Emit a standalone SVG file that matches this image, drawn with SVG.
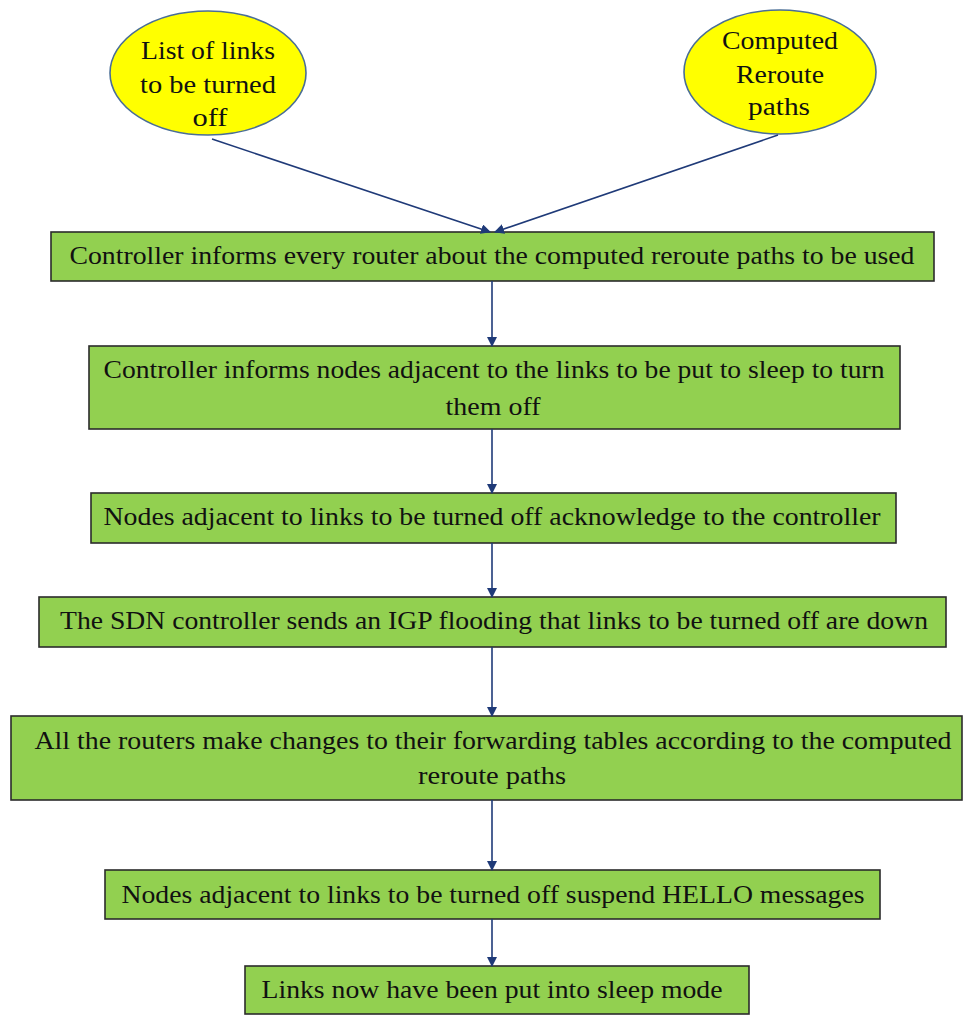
<svg xmlns="http://www.w3.org/2000/svg" width="964" height="1015" viewBox="0 0 964 1015">
<style>
.box{fill:#92D050;stroke:#2b2b2b;stroke-width:1.6}
.ell{fill:#FFFF00;stroke:#4a6e96;stroke-width:1.6}
.t{font-family:"Liberation Serif","Times New Roman",serif;font-size:25px;fill:#111;text-anchor:middle}
.c{stroke:#1F3A78;stroke-width:1.6;fill:none;marker-end:url(#ah)}
</style>
<defs>
<marker id="ah" markerWidth="10" markerHeight="10" refX="9" refY="5" orient="auto" markerUnits="userSpaceOnUse">
<path d="M0,0 L10,5 L0,10 z" fill="#1F3A78"/>
</marker>
</defs>
<rect width="964" height="1015" fill="#fff"/>
<g id="n1">
<ellipse class="ell" cx="208" cy="73" rx="98" ry="62"/>
<text class="t" x="208" y="59" textLength="134" lengthAdjust="spacingAndGlyphs">List of links</text>
<text class="t" x="208" y="93" textLength="136" lengthAdjust="spacingAndGlyphs">to be turned</text>
<text class="t" x="210" y="126" textLength="35" lengthAdjust="spacingAndGlyphs">off</text>
</g>
<g id="n2">
<ellipse class="ell" cx="780" cy="72" rx="96" ry="62"/>
<text class="t" x="780" y="49" textLength="116" lengthAdjust="spacingAndGlyphs">Computed</text>
<text class="t" x="780" y="83" textLength="88" lengthAdjust="spacingAndGlyphs">Reroute</text>
<text class="t" x="779" y="115" textLength="62" lengthAdjust="spacingAndGlyphs">paths</text>
</g>
<g id="n3">
<rect class="box" x="51" y="232" width="883" height="49"/>
<text class="t" x="492" y="264" textLength="845" lengthAdjust="spacingAndGlyphs">Controller informs every router about the computed reroute paths to be used</text>
</g>
<g id="n4">
<rect class="box" x="89" y="346" width="811" height="83"/>
<text class="t" x="494" y="378" textLength="781" lengthAdjust="spacingAndGlyphs">Controller informs nodes adjacent to the links  to be put to sleep to turn</text>
<text class="t" x="493" y="415" textLength="95" lengthAdjust="spacingAndGlyphs">them off</text>
</g>
<g id="n5">
<rect class="box" x="91" y="493" width="805" height="50"/>
<text class="t" x="492" y="525" textLength="777" lengthAdjust="spacingAndGlyphs">Nodes adjacent to links to be turned off acknowledge to the controller</text>
</g>
<g id="n6">
<rect class="box" x="39" y="597" width="907" height="50"/>
<text class="t" x="494" y="629" textLength="868" lengthAdjust="spacingAndGlyphs">The SDN controller sends an IGP flooding that links  to be turned off are down</text>
</g>
<g id="n7">
<rect class="box" x="11" y="716" width="951" height="84"/>
<text class="t" x="493" y="749" textLength="917" lengthAdjust="spacingAndGlyphs">All  the routers make changes to their forwarding tables according to the computed</text>
<text class="t" x="492" y="784" textLength="148" lengthAdjust="spacingAndGlyphs">reroute paths</text>
</g>
<g id="n8">
<rect class="box" x="105" y="870" width="775" height="49"/>
<text class="t" x="493" y="903" textLength="743" lengthAdjust="spacingAndGlyphs">Nodes adjacent to links to be turned off suspend HELLO messages</text>
</g>
<g id="n9">
<rect class="box" x="245" y="966" width="504" height="48"/>
<text class="t" x="492" y="998" textLength="461" lengthAdjust="spacingAndGlyphs">Links now have been put into sleep mode</text>
</g>
<g id="connectors">
<line class="c" x1="212" y1="139" x2="490" y2="232"/>
<line class="c" x1="778" y1="135" x2="495" y2="232"/>
<line class="c" x1="492" y1="281" x2="492" y2="346"/>
<line class="c" x1="492" y1="429" x2="492" y2="493"/>
<line class="c" x1="492" y1="543" x2="492" y2="597"/>
<line class="c" x1="492" y1="647" x2="492" y2="716"/>
<line class="c" x1="492" y1="800" x2="492" y2="870"/>
<line class="c" x1="492" y1="919" x2="492" y2="966"/>
</g>
</svg>
